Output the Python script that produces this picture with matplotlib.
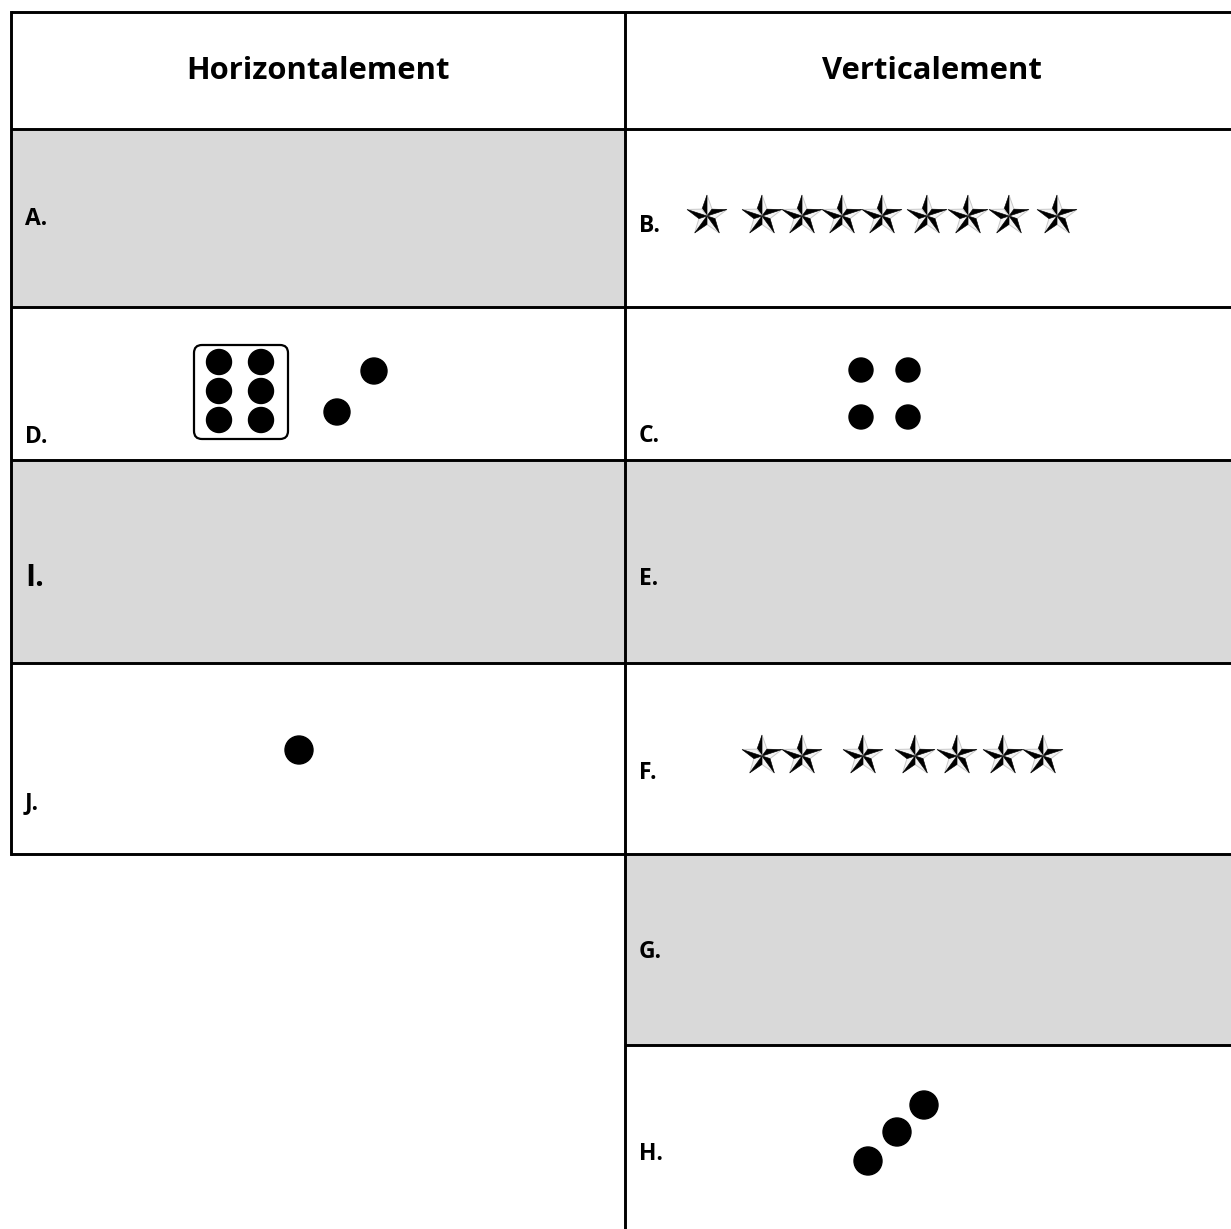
import numpy as np
import matplotlib
matplotlib.use("Agg")
import matplotlib.pyplot as plt
from matplotlib.patches import Rectangle, Circle, Polygon, FancyBboxPatch

plt.rcParams['font.family'] = ['Open Sans', 'DejaVu Sans']

# table grid (pixel units)
row_edges = [12, 129, 307, 460, 663, 854, 1045, 1229]
col_edges = [11, 625, 1231]
headers = ["Horizontalement", "Verticalement"]
header_x = [318, 932]

# shaded cells: (column, row index)
gray_cells = [(0, 1), (0, 3), (1, 3), (1, 5)]

left_labels = ["A.", "D.", "I.", "J."]
left_label_y = [225, 443, 586, 809]
left_label_size = [16.5, 16.5, 22, 16.5]
right_labels = ["B.", "C.", "E.", "F.", "G.", "H."]
right_label_y = [232, 442, 585, 779, 958, 1160]

# stars
stars_B_x = [707, 762, 802, 842, 882, 927, 968, 1009, 1057]
stars_B_y = 216
stars_F_x = [762, 802, 863, 915, 957, 1003, 1043]
stars_F_y = 756

# dots
dice_cols = [219, 261]
dice_rows = [362, 391, 420]
dice_box = (194, 345, 288, 439)
dots_D = [(374, 371), (337, 412)]
dots_C = [(861, 370), (908, 370), (861, 417), (908, 417)]
dots_J = [(299, 750)]
dots_H = [(868, 1161), (897, 1132), (924, 1105)]

fig = plt.figure(figsize=(12.31, 12.29), dpi=100)
ax = fig.add_axes([0, 0, 1, 1])
ax.set_xlim(0, 1231)
ax.set_ylim(1229, 0)
ax.axis('off')

# gray cells
for c, r in gray_cells:
    ax.add_patch(Rectangle((col_edges[c], row_edges[r]), col_edges[c + 1] - col_edges[c],
                           row_edges[r + 1] - row_edges[r], facecolor='#d9d9d9', edgecolor='none'))

lw = 2.1
# horizontal lines
for y in row_edges[:6]:
    ax.plot([11, 1231], [y, y], color='black', lw=lw, solid_capstyle='butt')
ax.plot([625, 1231], [row_edges[6], row_edges[6]], color='black', lw=lw, solid_capstyle='butt')
# vertical lines
ax.plot([11, 11], [row_edges[0], row_edges[5]], color='black', lw=lw, solid_capstyle='projecting')
ax.plot([625, 625], [row_edges[0], row_edges[7]], color='black', lw=lw, solid_capstyle='butt')

# headers
for h, x in zip(headers, header_x):
    ax.text(x, 79, h, ha='center', va='baseline', fontsize=22.3, fontweight='bold')

for lab, y, s in zip(left_labels, left_label_y, left_label_size):
    ax.text(25, y, lab, ha='left', va='baseline', fontsize=s, fontweight='bold')
for lab, y in zip(right_labels, right_label_y):
    ax.text(639, y, lab, ha='left', va='baseline', fontsize=16.5, fontweight='bold')


def star(cx, cy, R=21, r=8.5):
    for k in range(5):
        a = np.deg2rad(72 * k)
        tip = (cx + R * np.sin(a), cy - R * np.cos(a))
        ctr = (cx, cy)
        al = a - np.deg2rad(36)
        ar = a + np.deg2rad(36)
        left = (cx + r * np.sin(al), cy - r * np.cos(al))
        right = (cx + r * np.sin(ar), cy - r * np.cos(ar))
        ax.add_patch(Polygon([ctr, tip, right], closed=True, facecolor='#f4f4f4',
                             edgecolor='#c8c8c8', lw=0.7))
        ax.add_patch(Polygon([ctr, left, tip], closed=True, facecolor='black',
                             edgecolor='black', lw=0.4))


for x in stars_B_x:
    star(x, stars_B_y)
for x in stars_F_x:
    star(x, stars_F_y)

x0, y0, x1, y1 = dice_box
ax.add_patch(FancyBboxPatch((x0, y0), x1 - x0, y1 - y0,
                            boxstyle="round,pad=0,rounding_size=8",
                            facecolor='none', edgecolor='black', lw=1.6))
for cx in dice_cols:
    for cy in dice_rows:
        ax.add_patch(Circle((cx, cy), 12.5, color='black'))
for pts, rad in [(dots_D, 13), (dots_C, 12), (dots_J, 14), (dots_H, 14)]:
    for cx, cy in pts:
        ax.add_patch(Circle((cx, cy), rad, color='black'))

fig.savefig('out.png', dpi=100)
